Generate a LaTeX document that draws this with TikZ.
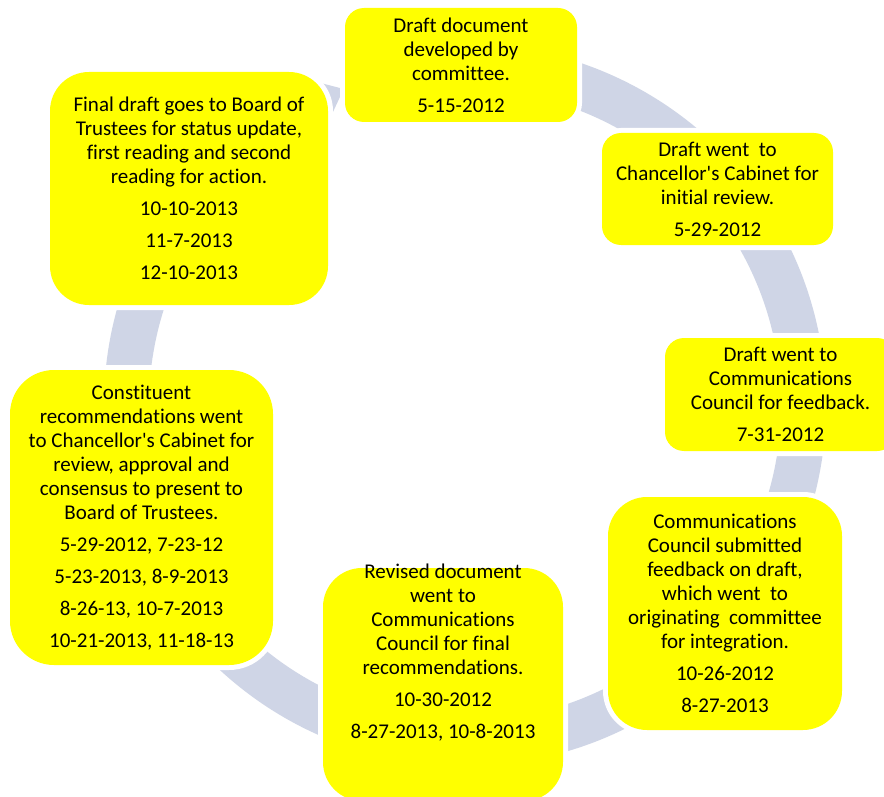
\documentclass[tikz,border=0pt]{standalone}
\usepackage{fontspec}
\setmainfont{Carlito}[Ligatures={CommonOff,TeXOff}]
\definecolor{ringgray}{RGB}{207,213,230}
\definecolor{stageyellow}{RGB}{255,255,0}
\tikzset{
  stagebox/.style={fill=stageyellow, preaction={draw=white, line width=10pt}, inner sep=0pt},
  stagetext/.style={align=center, font=\fontsize{21}{24}\selectfont, inner sep=0pt, text=black},
}
\begin{document}
\begin{tikzpicture}[x=1pt, y=-1pt]
\useasboundingbox (0,0) rectangle (884,797);
\clip (0,0) rectangle (884,797);
\fill[white] (0,0) rectangle (884,797);

% circular arrow running clockwise behind the stages
\begin{scope}[shift={(465,405)}]
  \fill[ringgray] (262:361) arc[start angle=262, end angle=603, radius=361]
    -- (603:368) -- (609:338.5) -- (603:309) -- (603:316)
    arc[start angle=603, end angle=262, radius=316] -- cycle;
\end{scope}

% stage boxes
\node[stagebox, minimum width=232, minimum height=114, rounded corners=19pt] (b1) at (461,65) {};
\node[stagebox, minimum width=231, minimum height=112, rounded corners=19pt] (b2) at (717.5,189) {};
\node[stagebox, minimum width=231, minimum height=113, rounded corners=19pt] (b3) at (780.5,394.5) {};
\node[stagebox, minimum width=234, minimum height=233, rounded corners=39pt] (b4) at (725,613.5) {};
\node[stagebox, minimum width=240, minimum height=233, rounded corners=39pt] (b5) at (443,684.5) {};
\node[stagebox, minimum width=263, minimum height=295, rounded corners=44pt] (b6) at (141.5,517.5) {};
\node[stagebox, minimum width=278, minimum height=233, rounded corners=39pt] (b7) at (189,188.5) {};

% stage texts
\node[stagetext] (t1) at (b1.center) {Draft document\\developed by\\committee.\\[8pt]5-15-2012};
\node[stagetext] (t2) at (b2.center) {Draft went\ \ to\\Chancellor's Cabinet for\\initial review.\\[8pt]5-29-2012};
\node[stagetext] (t3) at (b3.center) {Draft went to\\Communications\\Council for feedback.\\[8pt]7-31-2012};
\node[stagetext] (t4) at (b4.center) {Communications\\Council submitted\\feedback on draft,\\which went\ \ to\\originating\ \ committee\\for integration.\\[8pt]10-26-2012\\[8pt]8-27-2013};
\node[stagetext] (t5) at (443,653) {Revised document\\went to\\Communications\\Council for final\\recommendations.\\[8pt]10-30-2012\\[8pt]8-27-2013, 10-8-2013};
\node[stagetext] (t6) at (b6.center) {Constituent\\recommendations went\\to Chancellor's Cabinet for\\review, approval and\\consensus to present to\\Board of Trustees.\\[8pt]5-29-2012, 7-23-12\\[8pt]5-23-2013, 8-9-2013\\[8pt]8-26-13, 10-7-2013\\[8pt]10-21-2013, 11-18-13};
\node[stagetext] (t7) at (b7.center) {Final draft goes to Board of\\Trustees for status update,\\first reading and second\\reading for action.\\[8pt]10-10-2013\\[8pt]11-7-2013\\[8pt]12-10-2013};
\end{tikzpicture}
\end{document}
